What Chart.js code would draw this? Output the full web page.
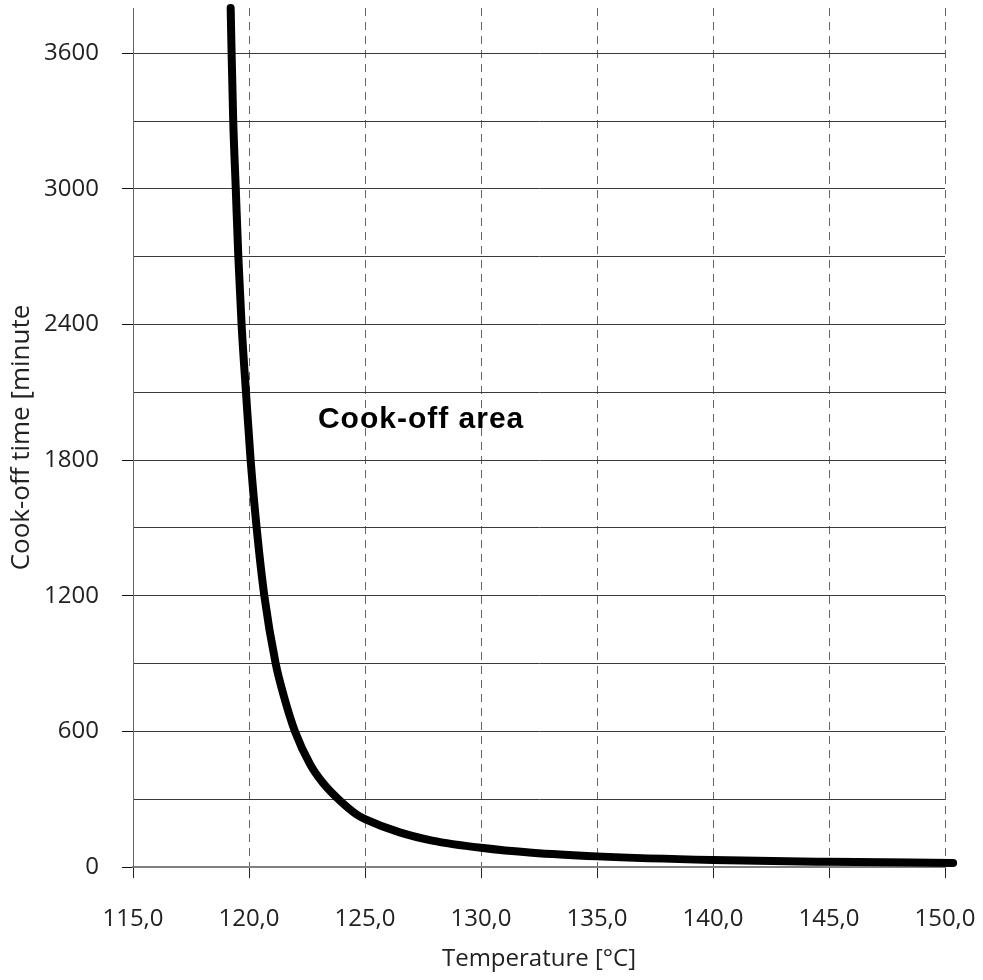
<!DOCTYPE html>
<html>
<head>
<meta charset="utf-8">
<script src="https://cdn.jsdelivr.net/npm/chart.js@4"></script>
<style>
  html, body { margin: 0; padding: 0; background: #fff; }
  #wrap { width: 983px; height: 980px; }
</style>
</head>
<body>
<div id="wrap"><canvas id="chart"></canvas></div>
<script>
// temperature [°C] and cook-off time [minute]
const temps   = [119.21, 119.25, 119.32, 119.43, 119.54, 119.68, 119.87, 120.07, 120.33, 120.66, 121.15, 121.51, 121.98, 122.63, 123.2, 123.85, 124.64, 125.0, 126.5, 127.9, 130.0, 132.2, 135.0, 140.0, 145.0, 150.35]
const minutes = [3800, 3600, 3300, 3000, 2700, 2400, 2100, 1800, 1500, 1200, 900, 753, 600, 455, 370, 300, 232, 212, 153, 117, 85, 63, 47, 31, 23, 18]

const xTicks = [115, 120, 125, 130, 135, 140, 145, 150]
const yLabelStep = 600
const yGridStep = 300

const areaLabel = 'Cook-off area'
const areaLabelAt = { x: 122.97, y: 1941 }

const points = temps.map((t, i) => ({ x: t, y: minutes[i] }))

const areaText = {
    id: 'areaText',
    afterDatasetsDraw(chart) {
        const { ctx, scales } = chart
        ctx.save()
        ctx.font = 'bold 30px "Liberation Sans", Arial, sans-serif'
        ctx.letterSpacing = '1px'
        ctx.fillStyle = '#000'
        ctx.textAlign = 'left'
        ctx.textBaseline = 'alphabetic'
        ctx.fillText(areaLabel, scales.x.getPixelForValue(areaLabelAt.x), scales.y.getPixelForValue(areaLabelAt.y))
        ctx.restore()
    }
}

const tickFont = { family: '"Open Sans", sans-serif', size: 24 }

new Chart(document.getElementById('chart'), {
    type: 'line',
    data: {
        datasets: [{
            data: points,
            borderColor: '#000',
            borderWidth: 8,
            borderCapStyle: 'round',
            borderJoinStyle: 'round',
            pointRadius: 0,
            cubicInterpolationMode: 'monotone',
            clip: false
        }]
    },
    options: {
        responsive: true,
        maintainAspectRatio: false,
        devicePixelRatio: 1,
        animation: false,
        layout: { padding: { top: 8, right: 38, bottom: 0, left: 0 } },
        plugins: { legend: { display: false }, tooltip: { enabled: false } },
        scales: {
            x: {
                type: 'linear',
                min: 115,
                max: 150,
                afterBuildTicks: scale => { scale.ticks = xTicks.map(v => ({ value: v })) },
                afterFit: scale => {
                    scale.height = 113
                    scale.paddingLeft = 0
                    scale.paddingRight = 0
                },
                ticks: {
                    font: tickFont,
                    color: '#222',
                    padding: 27,
                    maxRotation: 0,
                    callback: v => v.toFixed(1).replace('.', ',')
                },
                grid: {
                    color: '#666',
                    lineWidth: 1,
                    tickLength: 11,
                    tickColor: '#222',
                    tickBorderDash: []
                },
                border: { display: true, color: '#808080', width: 2, dash: [8, 6] },
                title: {
                    display: true,
                    text: 'Temperature [°C]',
                    font: { family: '"Open Sans", sans-serif', size: 24 },
                    color: '#222',
                    padding: { top: 6, bottom: 6 }
                }
            },
            y: {
                type: 'linear',
                min: 0,
                max: 3800,
                afterFit: scale => {
                    scale.width = 133
                    scale.paddingTop = 0
                    scale.paddingBottom = 0
                },
                ticks: {
                    stepSize: yGridStep,
                    includeBounds: false,
                    font: tickFont,
                    color: '#222',
                    padding: 23,
                    callback: v => (v % yLabelStep === 0 ? v : '')
                },
                grid: {
                    color: '#3a3a3a',
                    lineWidth: 1,
                    tickLength: 11,
                    tickColor: ctx => (ctx.tick && ctx.tick.value % yLabelStep === 0 ? '#111' : 'rgba(0,0,0,0)')
                },
                border: { display: true, color: '#666', width: 1 },
                title: {
                    display: true,
                    text: 'Cook-off time [minute',
                    font: { family: '"Open Sans", sans-serif', size: 26 },
                    color: '#222',
                    padding: { top: 6, bottom: 6 }
                }
            }
        }
    },
    plugins: [areaText]
})
</script>
</body>
</html>
